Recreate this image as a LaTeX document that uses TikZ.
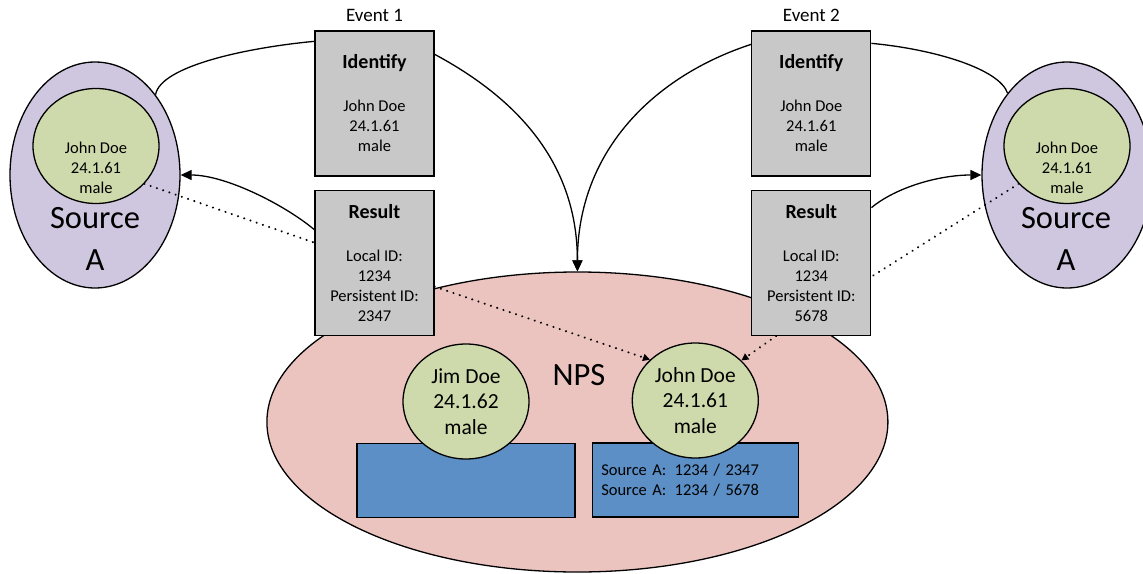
\documentclass[tikz,border=0pt]{standalone}
\usepackage{fontspec}
\setmainfont{Carlito}
\usetikzlibrary{arrows.meta,positioning,calc,shapes.geometric}

\definecolor{boxgrey}{HTML}{C8C8C8}
\definecolor{srclilac}{HTML}{CFC6DF}
\definecolor{persgreen}{HTML}{CEDAAB}
\definecolor{npspink}{HTML}{EBC4C0}
\definecolor{idblue}{HTML}{5B8FC6}

\newcommand{\txtsmall}{\fontsize{16.5}{20}\selectfont}
\newcommand{\txttitle}{\fontsize{20}{24}\selectfont\bfseries}
\newcommand{\txtevent}{\fontsize{19}{22}\selectfont}
\newcommand{\txtperson}{\fontsize{21.5}{25.5}\selectfont}
\newcommand{\txtbig}{\fontsize{32.5}{42}\selectfont}

\begin{document}
\begin{tikzpicture}[
  x=1pt, y=-1pt,
  >={Triangle[length=11pt,width=10pt]},
  line width=1.3pt,
  every node/.style={align=center, inner sep=0pt},
  greybox/.style={draw, fill=boxgrey, minimum width=119pt, minimum height=145pt, font=\txtsmall},
  source/.style={draw, ellipse, fill=srclilac, minimum width=170pt, minimum height=226pt},
  person/.style={draw, ellipse, fill=persgreen, minimum width=126pt, minimum height=115pt},
  idbox/.style={draw, fill=idblue, minimum height=74pt},
  dots/.style={line width=2.2pt, line cap=round, dash pattern=on 0.1pt off 6.5pt},
  dotarrow/.style={dots, -{Triangle[length=7pt,width=7pt]}}
]
\useasboundingbox (0,0) rectangle (1143,573);

% NPS (fond)
\node[draw, ellipse, fill=npspink, minimum width=621pt, minimum height=300pt] (nps) at (577.4,422) {};
\node[font=\txtbig] (npslbl) at (579,375) {NPS};

\node[idbox, minimum width=218pt] (blkL) at (466,480.5) {};
\node[idbox, minimum width=206pt, text width=188pt, align=left, font=\txtsmall] (blkR) at (695.3,480)
  {Source A:\hspace{.5em}1234 / 2347\\Source A:\hspace{.5em}1234 / 5678};
\node[person, font=\txtperson] (jim)  at (466,401.5) {Jim Doe\\24.1.62\\male};
\node[person, font=\txtperson] (john) at (695.3,400.5) {John Doe\\24.1.61\\male};

% Sources
\node[source] (srcL) at (95,175) {};
\node[person] (grnL) at (96,146) {};
\node[font=\txtsmall] (grnLtxt) at (96,168) {John Doe\\24.1.61\\male};
\node[font=\txtbig] (srcLtxt) at (95,239) {Source\\A};

\node[source] (srcR) at (1067,175) {};
\node[person] (grnR) at (1067,146) {};
\node[font=\txtsmall] (grnRtxt) at (1067,168) {John Doe\\24.1.61\\male};
\node[font=\txtbig] (srcRtxt) at (1066,239) {Source\\A};

% Events
\node[greybox] (id1) at (374.5,103.5) {{\txttitle Identify}\\[23pt]John Doe\\24.1.61\\male};
\node[greybox, below=13pt of id1] (res1) {{\txttitle Result}\\[23pt]Local ID:\\1234\\Persistent ID:\\2347};
\node[font=\txtevent, above=8pt of id1] (ev1) {Event 1};

\node[greybox] (id2) at (811.3,103.5) {{\txttitle Identify}\\[23pt]John Doe\\24.1.61\\male};
\node[greybox, below=13pt of id2] (res2) {{\txttitle Result}\\[23pt]Local ID:\\1234\\Persistent ID:\\5678};
\node[font=\txtevent, above=8pt of id2] (ev2) {Event 2};

% Fleches
\draw ($(id1.north west)+(0,11)$) .. controls +(-65,6) and +(5,-29) .. (srcL.53);
\draw[->] ($(id1.north east)+(0,24)$) .. controls +(84,45) and +(0,-107) .. (nps.north);
\draw[->] ($(res1.north west)+(0,40)$) .. controls +(-30,-25) and +(45,0) .. (srcL.east);

\draw ($(id2.north east)+(0,13)$) .. controls +(64,6) and +(-8,-24) .. (srcR.126);
\draw[->] ($(id2.north west)+(0,14)$) .. controls +(-95,31) and +(0,-122) .. (nps.north);
\draw[->] ($(res2.north east)+(0,18)$) .. controls +(24,-20) and +(-43,0) .. (srcR.west);

% Pointilles
\draw[dots] (grnL.322) -- ($(res1.north west)+(0,53)$);
\draw[dots] (grnR.218) -- ($(res2.north east)+(0,87)$);
\draw[dotarrow] ($(res1.north east)+(0,97)$) -- (john.138);
\draw[dotarrow] ($(res2.south west)+(25,0)$) -- (john.41);

\end{tikzpicture}
\end{document}
